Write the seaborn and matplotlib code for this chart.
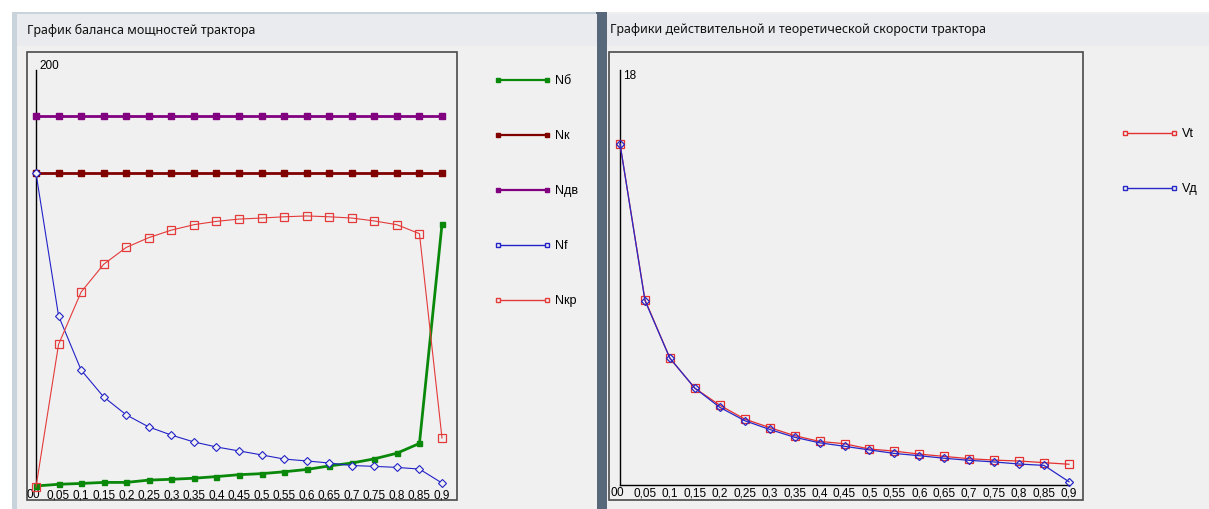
import matplotlib
matplotlib.use("Agg")
import matplotlib.pyplot as plt
from matplotlib.patches import Rectangle
from matplotlib.lines import Line2D
from matplotlib import font_manager as fm
import seaborn as sns
import pandas as pd

# ---------------- data ----------------
x_vals = [0, 0.05, 0.1, 0.15, 0.2, 0.25, 0.3, 0.35, 0.4, 0.45,
          0.5, 0.55, 0.6, 0.65, 0.7, 0.75, 0.8, 0.85, 0.9]
x_labels = ["0", "0,05", "0,1", "0,15", "0,2", "0,25", "0,3", "0,35", "0,4", "0,45",
            "0,5", "0,55", "0,6", "0,65", "0,7", "0,75", "0,8", "0,85", "0,9"]

N_b = [0.5, 1.3, 1.7, 2.2, 2.2, 3.3, 3.7, 4.2, 5.0, 5.9,
       6.4, 7.3, 8.4, 10.1, 11.5, 13.5, 16.2, 20.9, 126]
N_k = [150.5] * 19
N_dv = [178] * 19
N_f = [150.5, 82.1, 56.1, 43.2, 34.6, 28.8, 24.9, 21.6, 19.2, 17.3,
       15.4, 13.4, 12.5, 11.5, 10.3, 9.9, 9.4, 8.6, 1.9]
N_kr = [0, 68.4, 93.5, 106.8, 114.9, 119.6, 123.2, 125.8, 127.4, 128.5,
        129.0, 129.6, 130.0, 129.6, 129.0, 127.6, 125.8, 121.5, 23.5]

V_t = [14.8, 8.04, 5.5, 4.2, 3.46, 2.86, 2.49, 2.14, 1.89, 1.79,
       1.56, 1.47, 1.34, 1.24, 1.14, 1.08, 1.04, 0.97, 0.90]
V_d = [14.8, 8.0, 5.5, 4.2, 3.37, 2.79, 2.41, 2.07, 1.83, 1.68,
       1.52, 1.37, 1.27, 1.16, 1.07, 1.0, 0.91, 0.85, 0.14]

left_title = "График баланса мощностей трактора"
right_title = "Графики действительной и теоретической скорости трактора"
left_ymax = 200
right_ymax = 18

# ---------------- fonts ----------------
names = {f.name for f in fm.fontManager.ttflist}
small_font = "Liberation Sans Narrow" if "Liberation Sans Narrow" in names else "Liberation Sans"
plt.rcParams["font.family"] = ["Noto Sans", "DejaVu Sans"]

W, H = 1209, 509
fig = plt.figure(figsize=(W / 100, H / 100), dpi=100)
fig.patch.set_facecolor("white")


def fx(px):
    return px / W


def fy(py):
    return 1 - py / H


def rect(x0, y0, x1, y1, fc, ec="none", lw=0, z=-5):
    r = Rectangle((fx(x0), fy(y1)), (x1 - x0) / W, (y1 - y0) / H,
                  transform=fig.transFigure, figure=fig, facecolor=fc,
                  edgecolor=ec, linewidth=lw, zorder=z)
    fig.patches.append(r)


# window chrome
rect(12, 12, 600, 509, "#c9d3dc", z=-5)
rect(17, 14, 597, 509, "#f0f0f0", z=-4)
rect(17, 14, 597, 46, "#e9ebee", z=-4)
rect(596, 12, 607, 509, "#56687a", z=-5)
rect(607, 12, 1209, 509, "#f0f0f0", z=-4)
rect(607, 14, 1209, 46, "#e9ebee", z=-4)
# inner plot boxes
rect(27, 52, 457, 500, "#f0f0f0", ec="#4a4a4a", lw=1.2, z=-3)
rect(609, 52, 1083, 500, "#f0f0f0", ec="#4a4a4a", lw=1.2, z=-3)

fig.text(fx(27), fy(30), left_title, fontsize=9, va="center", ha="left",
         color="#111111")
fig.text(fx(610), fy(30), right_title, fontsize=9, va="center", ha="left",
         color="#111111")

TICK_FS = 8.5

# ---------------- axes ----------------
ax1 = fig.add_axes([fx(36), fy(487), (442 - 36) / W, (487 - 70) / H])
ax2 = fig.add_axes([fx(620), fy(485), (1069 - 620) / W, (485 - 70) / H])

for ax, ymax in ((ax1, left_ymax), (ax2, right_ymax)):
    ax.set_zorder(2)
    ax.set_facecolor("none")
    ax.set_xlim(0, 0.9)
    ax.set_ylim(0, ymax)
    for s in ("top", "right"):
        ax.spines[s].set_visible(False)
    ax.spines["left"].set_color("black")
    ax.spines["left"].set_linewidth(1)
    ax.spines["bottom"].set_color("black")
    ax.spines["bottom"].set_linewidth(1)
    ax.set_yticks([])
    ax.set_xticks(x_vals)
    ax.set_xticklabels(x_labels, fontsize=TICK_FS, family=small_font)
    ax.tick_params(axis="x", length=0, pad=1.5)
    ax.annotate(str(ymax), xy=(0, ymax), xytext=(3, 4 if ax is ax1 else -6),
                textcoords="offset pixels", fontsize=TICK_FS, family=small_font,
                ha="left", va="center")
    ax.annotate("0", xy=(0, 0), xytext=(-3, -8), textcoords="offset pixels",
                fontsize=TICK_FS, family=small_font, ha="right", va="center",
                annotation_clip=False)
ax1.spines["bottom"].set_visible(False)

df = pd.DataFrame({"x": x_vals, "Nб": N_b, "Nк": N_k, "Nдв": N_dv,
                   "Nf": N_f, "Nкр": N_kr, "Vt": V_t, "Vд": V_d})

styles = {
    "Nб": dict(color="#0a880a", lw=2.0, marker="s", ms=3.6, mfc="#0a880a", mew=1),
    "Nк": dict(color="#800000", lw=2.0, marker="s", ms=4.2, mfc="#800000", mew=1),
    "Nдв": dict(color="#800080", lw=2.0, marker="s", ms=4.2, mfc="#800080", mew=1),
    "Nf": dict(color="#2222c8", lw=0.8, marker="D", ms=4.2, mfc="#f0f0f0", mew=0.8),
    "Nкр": dict(color="#e43a3a", lw=0.8, marker="s", ms=5.5, mfc="none", mew=0.9),
    "Vt": dict(color="#e43030", lw=0.9, marker="s", ms=5.2, mfc="none", mew=0.9),
    "Vд": dict(color="#2828c8", lw=0.9, marker="D", ms=4.2, mfc="none", mew=0.9),
}

for name in ["Nб", "Nк", "Nдв", "Nf", "Nкр"]:
    st = styles[name]
    sns.lineplot(data=df, x="x", y=name, ax=ax1, color=st["color"], lw=st["lw"],
                 marker=st["marker"], markersize=st["ms"], markerfacecolor=st["mfc"],
                 markeredgecolor=st["color"], markeredgewidth=st["mew"],
                 clip_on=False, zorder=3)
for name in ["Vt", "Vд"]:
    st = styles[name]
    sns.lineplot(data=df, x="x", y=name, ax=ax2, color=st["color"], lw=st["lw"],
                 marker=st["marker"], markersize=st["ms"], markerfacecolor=st["mfc"],
                 markeredgecolor=st["color"], markeredgewidth=st["mew"],
                 clip_on=False, zorder=3)
for ax in (ax1, ax2):
    ax.set_xlabel("")
    ax.set_ylabel("")


def legend_for(ax, names_, x_left, y_top, fig_):
    handles = []
    for n in names_:
        st = styles[n]
        filled = st["mfc"] not in ("none", "#f0f0f0")
        handles.append(Line2D([0], [0], color=st["color"],
                              lw=1.6 if filled else 1.0, marker="s", ms=3.2,
                              mfc=st["color"] if filled else "#f0f0f0",
                              mec=st["color"], mew=1))
    leg = ax.legend(handles, names_, loc="upper left",
                    bbox_to_anchor=(fx(x_left), fy(y_top)),
                    bbox_transform=fig_.transFigure, frameon=False,
                    fontsize=9, handlelength=4.5, handletextpad=0.4,
                    labelspacing=3.44, numpoints=2, borderaxespad=0,
                    borderpad=0)
    for t in leg.get_texts():
        t.set_family(small_font)
    return leg


legend_for(ax1, ["Nб", "Nк", "Nдв", "Nf", "Nкр"], 494, 75, fig)
legend_for(ax2, ["Vt", "Vд"], 1121, 128, fig)

fig.savefig("out.png", dpi=100, facecolor=fig.get_facecolor())
